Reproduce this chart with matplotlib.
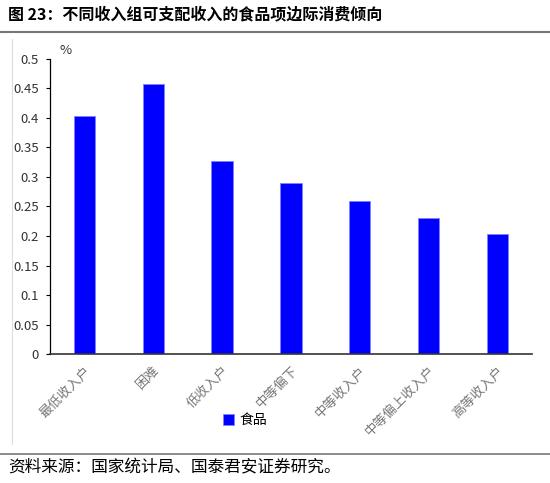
import matplotlib.pyplot as plt
from matplotlib.lines import Line2D

plt.rcParams['font.family'] = ['Noto Sans CJK SC', 'DejaVu Sans']

categories = ['最低收入户', '困难', '低收入户', '中等偏下', '中等收入户', '中等偏上收入户', '高等收入户']
food = [0.403, 0.458, 0.327, 0.290, 0.260, 0.231, 0.204]
yticks = [0, 0.05, 0.1, 0.15, 0.2, 0.25, 0.3, 0.35, 0.4, 0.45, 0.5]
ytick_labels = ['0', '0.05', '0.1', '0.15', '0.2', '0.25', '0.3', '0.35', '0.4', '0.45', '0.5']

fig = plt.figure(figsize=(5.5, 4.83), dpi=100)
ax = fig.add_axes([0.091, 0.267, 0.876, 0.611])

x = range(len(categories))
ax.bar(x, food, width=0.31, color='#0000ff', edgecolor='#8080ff', linewidth=0.6, label='食品')
ax.set_xlim(-0.5, len(categories) - 0.5)
ax.set_ylim(0, 0.5)
ax.set_yticks(yticks)
ax.set_yticklabels(ytick_labels, fontsize=9.5, color='#333333')
ax.set_xticks(list(x))
ax.set_xticklabels(categories, rotation=45, ha='right', va='top', rotation_mode='anchor',
                   fontsize=9.5, color='#777777')
ax.tick_params(axis='x', length=0, pad=7)
ax.tick_params(axis='y', length=3, width=0.8, direction='out', pad=5)
for s in ['top', 'right']:
    ax.spines[s].set_visible(False)
ax.spines['left'].set_linewidth(0.9)
ax.spines['bottom'].set_linewidth(1.2)
ax.spines['bottom'].set_color('#333333')

ax.text(0.02, 1.005, '%', transform=ax.transAxes, fontsize=9.5, color='#333333', va='bottom')

ax.legend(loc='center', bbox_to_anchor=(0.405, -0.225), frameon=False, fontsize=10,
          handlelength=0.8, handleheight=0.8, handletextpad=0.4)

# title and source
fig.text(0.015, 0.971, '图 23：不同收入组可支配收入的食品项边际消费倾向', fontsize=11.5,
         fontweight='bold', va='center', ha='left')
fig.add_artist(Line2D([0, 1], [0.934, 0.934], color='#777777', linewidth=1.5, transform=fig.transFigure))
fig.add_artist(Line2D([0.022, 0.022], [0.08, 0.92], color='#dddddd', linewidth=0.8, transform=fig.transFigure))
fig.add_artist(Line2D([0, 1], [0.06, 0.06], color='#777777', linewidth=1.2, transform=fig.transFigure))
fig.text(0.015, 0.032, '资料来源：国家统计局、国泰君安证券研究。', fontsize=12, va='center', ha='left')

fig.savefig('out.png', dpi=100)
